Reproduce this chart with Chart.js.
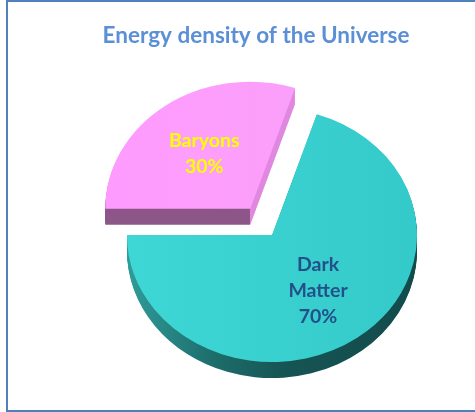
<!DOCTYPE html>
<html>
<head>
<meta charset="utf-8">
<script src="https://cdn.jsdelivr.net/npm/chart.js@4/dist/chart.umd.min.js"></script>
<style>
  html, body { margin: 0; padding: 0; background: #fff; overflow: hidden; }
  #wrap { position: relative; width: 475px; height: 412px; }
  #chart { position: absolute; left: 0; top: 0; }
  #frame {
    position: absolute; left: 6px; top: 0; width: 480px; height: 408px;
    border: 2px solid #4f81bd; border-right: none; pointer-events: none;
  }
</style>
</head>
<body>
<div id="wrap">
  <canvas id="chart" width="475" height="412"></canvas>
  <div id="frame"></div>
</div>
<script>
const categories = ['Baryons', 'Dark Matter'];
const shares = [30, 70];
const chartTitle = 'Energy density of the Universe';

const labelColors = ['#ffff00', '#24508a'];
const explode = [37, 0];     // how far each slice is pulled out
const TILT = 0.876;          // vertical squash of the pie disc
const DEPTH = 16;            // thickness of the disc in px
const CENTER_X = 272;        // where the disc centre sits on screen
const CENTER_Y = 235;

function tilt(ctx, arc, i) {
    const mid = (arc.startAngle + arc.endAngle) / 2;
    ctx.translate(CENTER_X - arc.x, CENTER_Y);
    ctx.scale(1, TILT);
    ctx.translate(Math.cos(mid) * explode[i], -arc.y + Math.sin(mid) * explode[i]);
}

function topFill(ctx, arc, i) {
    const g = ctx.createLinearGradient(arc.x - arc.outerRadius, 0, arc.x + arc.outerRadius, 0);
    if (i === 0) {
        g.addColorStop(0, '#ff9bff');
        g.addColorStop(1, '#f8a2f6');
    } else {
        g.addColorStop(0, '#3fd7d5');
        g.addColorStop(1, '#33cac9');
    }
    return g;
}

function wallFill(ctx, arc, i) {
    const g = ctx.createLinearGradient(arc.x - arc.outerRadius, 0, arc.x + arc.outerRadius, 0);
    if (i === 0) {
        // front face up to the slice corner, lighter side face after it
        g.addColorStop(0, '#8c5689');
        g.addColorStop(0.5, '#8c5689');
        g.addColorStop(0.5, '#e088e0');
        g.addColorStop(1, '#e088e0');
    } else {
        g.addColorStop(0, '#2f9c99');
        g.addColorStop(0.3, '#1d6d6b');
        g.addColorStop(0.55, '#165453');
        g.addColorStop(1, '#134b4b');
    }
    return g;
}

function drawWall(ctx, arc, i) {
    const {x, y, startAngle, endAngle, outerRadius} = arc;
    ctx.save();
    tilt(ctx, arc, i);
    ctx.fillStyle = wallFill(ctx, arc, i);
    for (let d = DEPTH; d > 0; d -= 1) {
        const dy = d / TILT;
        ctx.beginPath();
        ctx.moveTo(x, y + dy);
        ctx.arc(x, y + dy, outerRadius, startAngle, endAngle);
        ctx.closePath();
        ctx.fill();
    }
    ctx.restore();
}

function drawLabels(ctx, arcs) {
    ctx.save();
    ctx.font = 'bold 19.5px Lato';
    ctx.textAlign = 'center';
    ctx.textBaseline = 'middle';
    arcs.forEach((arc, i) => {
        const mid = (arc.startAngle + arc.endAngle) / 2;
        const r = arc.outerRadius * 0.54 + explode[i];
        const px = CENTER_X + Math.cos(mid) * r;
        const py = CENTER_Y + Math.sin(mid) * r * TILT;
        const lines = categories[i].split(' ').concat(shares[i] + '%');
        ctx.fillStyle = labelColors[i];
        lines.forEach((t, k) => {
            ctx.fillText(t, px, py + (k - (lines.length - 1) / 2) * 26);
        });
    });
    ctx.restore();
}

const pie3d = {
    id: 'pie3d',
    beforeDatasetDraw(chart, args) {
        const ctx = chart.ctx;
        const arcs = args.meta.data;
        arcs.forEach((arc, i) => drawWall(ctx, arc, i));
        arcs.forEach((arc, i) => {
            ctx.save();
            tilt(ctx, arc, i);
            arc.options.backgroundColor = topFill(ctx, arc, i);
            arc.draw(ctx);
            ctx.restore();
        });
        drawLabels(ctx, arcs);
        return false;
    }
};

new Chart(document.getElementById('chart'), {
    type: 'pie',
    data: {
        labels: categories,
        datasets: [{
            data: shares,
            backgroundColor: ['#ff9bff', '#38d0ce'],
            borderWidth: 0
        }]
    },
    options: {
        responsive: false,
        animation: false,
        devicePixelRatio: 1,
        rotation: -90,
        radius: 145,
        layout: { padding: { left: 37, right: 0, top: 0, bottom: 0 } },
        plugins: {
            legend: { display: false },
            tooltip: { enabled: false },
            title: {
                display: true,
                text: chartTitle,
                color: '#5b8fd6',
                font: { family: 'Lato', size: 22.5, weight: 'bold' },
                padding: { top: 22, bottom: 10 }
            }
        }
    },
    plugins: [pie3d]
});
</script>
</body>
</html>
